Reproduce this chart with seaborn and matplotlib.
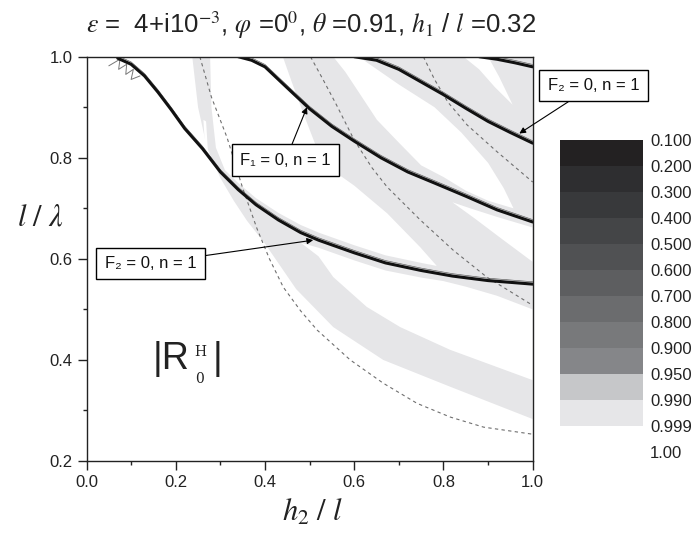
import matplotlib
matplotlib.use("Agg")
import matplotlib as mpl
import matplotlib.pyplot as plt
import matplotlib.transforms as mtransforms
from matplotlib.colors import ListedColormap, BoundaryNorm
from matplotlib.ticker import MultipleLocator
import seaborn as sns

# ---------------- data ----------------
# thick black curves (h2/l, l/lambda)
curveA_x = [0.07, 0.10, 0.13, 0.16, 0.19, 0.22, 0.26, 0.30, 0.34, 0.38, 0.43, 0.48, 0.52, 0.60, 0.67, 0.75, 0.82, 0.90, 1.00]
curveA_y = [0.997, 0.985, 0.962, 0.930, 0.895, 0.858, 0.818, 0.772, 0.737, 0.707, 0.677, 0.652, 0.637, 0.612, 0.592, 0.577, 0.566, 0.557, 0.550]
curveB_x = [0.34, 0.37, 0.40, 0.43, 0.46, 0.50, 0.55, 0.60, 0.66, 0.72, 0.78, 0.85, 0.92, 1.00]
curveB_y = [1.0, 0.993, 0.980, 0.955, 0.930, 0.897, 0.862, 0.833, 0.800, 0.772, 0.750, 0.724, 0.697, 0.673]
curveC_x = [0.60, 0.65, 0.70, 0.75, 0.80, 0.85, 0.90, 0.95, 1.00]
curveC_y = [1.0, 0.993, 0.975, 0.950, 0.925, 0.898, 0.872, 0.850, 0.829]
curveD_x = [0.88, 0.92, 0.96, 1.00]
curveD_y = [1.0, 0.995, 0.988, 0.980]
zig_x = [0.05, 0.075, 0.072, 0.09, 0.088, 0.105, 0.10, 0.12]
zig_y = [0.982, 0.995, 0.975, 0.985, 0.965, 0.975, 0.955, 0.962]

# thin dashed curves
dash1_x = [0.254, 0.28, 0.315, 0.35, 0.382, 0.41, 0.441, 0.48, 0.517, 0.591, 0.665, 0.741, 0.815, 0.89, 1.0]
dash1_y = [1.0, 0.92, 0.84, 0.74, 0.66, 0.60, 0.544, 0.497, 0.459, 0.40, 0.354, 0.314, 0.287, 0.267, 0.253]
dash2_x = [0.502, 0.53, 0.56, 0.60, 0.64, 0.674, 0.748, 0.822, 0.897, 1.0]
dash2_y = [1.0, 0.955, 0.905, 0.835, 0.78, 0.742, 0.677, 0.617, 0.564, 0.508]
dash3_x = [0.755, 0.78, 0.81, 0.853, 0.92, 1.0]
dash3_y = [1.0, 0.955, 0.91, 0.865, 0.812, 0.752]

# region |R| < 0.999 (light grey): outer boundary, then white holes
grey_x = [0.237, 0.25, 0.27, 0.30, 0.33, 0.36, 0.40, 0.47, 0.553, 0.665, 0.815, 1.0, 1.0]
grey_y = [1.0, 0.90, 0.82, 0.76, 0.715, 0.675, 0.63, 0.54, 0.465, 0.40, 0.347, 0.283, 1.0]
hole1_x = [0.48, 0.52, 0.553, 0.628, 0.703, 0.815, 1.0, 1.0, 0.92, 0.85, 0.80, 0.75, 0.67, 0.60, 0.52]
hole1_y = [0.632, 0.605, 0.564, 0.505, 0.465, 0.42, 0.36, 0.50, 0.527, 0.545, 0.556, 0.563, 0.577, 0.597, 0.622]
hole2_x = [0.277, 0.28, 0.29, 0.31, 0.34, 0.38, 0.43, 0.48, 0.52, 0.60, 0.67, 0.75, 0.785,
           0.748, 0.674, 0.60, 0.56, 0.52, 0.485, 0.46, 0.44]
hole2_y = [1.0, 0.90, 0.82, 0.776, 0.75, 0.72, 0.691, 0.667, 0.652, 0.627, 0.607, 0.592, 0.586,
           0.623, 0.69, 0.745, 0.77, 0.81, 0.89, 0.95, 1.0]
hole3_x = [0.553, 0.61, 0.70, 0.78, 0.84, 0.90, 0.935, 0.957, 0.90, 0.85, 0.80, 0.75, 0.70, 0.651, 0.61, 0.58]
hole3_y = [1.0, 1.0, 0.945, 0.90, 0.85, 0.79, 0.74, 0.70, 0.715, 0.735, 0.762, 0.785, 0.83, 0.875, 0.93, 0.97]
hole4_x = [0.82, 0.86, 0.92, 1.0, 1.0, 0.93, 0.87]
hole4_y = [0.712, 0.70, 0.683, 0.662, 0.594, 0.64, 0.68]
hole5_x = [0.845, 0.90, 0.925, 0.955, 0.915, 0.88]
hole5_y = [1.0, 1.0, 0.96, 0.905, 0.94, 0.975]
sliver_x = [0.262, 0.268, 0.272, 0.266]
sliver_y = [0.875, 0.872, 0.815, 0.815]

# colour scale of |R|
levels = [0.100, 0.200, 0.300, 0.400, 0.500, 0.600, 0.700, 0.800, 0.900, 0.950, 0.990, 0.999, 1.00]
level_labels = ["0.100", "0.200", "0.300", "0.400", "0.500", "0.600", "0.700", "0.800", "0.900",
                "0.950", "0.990", "0.999", "1.00"]
level_colors = ["#232122", "#2e2e30", "#38393b", "#444547", "#505153", "#5d5e60", "#6b6c6e",
                "#78797b", "#858689", "#c6c7c9", "#e6e6e8", "#ffffff"]

# annotations
labelF1_text = "F\u2081 = 0, n = 1"
labelF1_xy, labelF1_tip = (0.446, 0.795), (0.494, 0.900)
labelF2a_text = "F\u2082 = 0, n = 1"
labelF2a_xy, labelF2a_tip = (0.1435, 0.591), (0.508, 0.637)
labelF2b_text = "F\u2082 = 0, n = 1"
labelF2b_xy, labelF2b_tip = (1.136, 0.943), (0.970, 0.848)

x_ticks = [0.0, 0.2, 0.4, 0.6, 0.8, 1.0]
y_ticks = [0.2, 0.4, 0.6, 0.8, 1.0]

# ---------------- figure ----------------
sns.set_theme(style="ticks")
plt.rcParams["font.family"] = ["Liberation Sans", "DejaVu Sans"]
plt.rcParams["axes.edgecolor"] = "#222222"
plt.rcParams["axes.linewidth"] = 1.0

fig = plt.figure(figsize=(6.91, 5.34), dpi=100)
ax = fig.add_axes([0.1252, 0.1367, 0.6457, 0.7571])

band_grey = "#e6e6e8"
ax.fill(grey_x, grey_y, color=band_grey, lw=0, zorder=0.5)
for hx, hy in [(hole1_x, hole1_y), (hole2_x, hole2_y), (hole3_x, hole3_y),
               (hole4_x, hole4_y), (hole5_x, hole5_y), (sliver_x, sliver_y)]:
    ax.fill(hx, hy, color="white", lw=0, zorder=0.6)

for dx, dy in [(dash1_x, dash1_y), (dash2_x, dash2_y), (dash3_x, dash3_y)]:
    sns.lineplot(x=dx, y=dy, sort=False, estimator=None, ax=ax, color="#6f6f6f",
                 lw=0.8, linestyle=(0, (3, 3)), zorder=1)

ax.plot(zig_x, zig_y, color="#777777", lw=0.7, zorder=1.5)

trans = mtransforms.offset_copy(ax.transData, fig=fig, x=0, y=1.7, units="points")
for cx, cy in [(curveA_x, curveA_y), (curveB_x, curveB_y), (curveC_x, curveC_y), (curveD_x, curveD_y)]:
    ax.plot(cx, cy, color="#555555", lw=0.45, transform=trans, zorder=1.8)

for cx, cy in [(curveA_x, curveA_y), (curveB_x, curveB_y), (curveC_x, curveC_y), (curveD_x, curveD_y)]:
    sns.lineplot(x=cx, y=cy, sort=False, estimator=None, ax=ax, color="#111111", lw=2.2, zorder=2)

ax.set_xlim(0.0, 1.0)
ax.set_ylim(0.2, 1.0)
ax.set_xticks(x_ticks)
ax.set_yticks(y_ticks)
ax.set_xticklabels([f"{v:.1f}" for v in x_ticks])
ax.set_yticklabels([f"{v:.1f}" for v in y_ticks])
ax.xaxis.set_minor_locator(MultipleLocator(0.1))
ax.yaxis.set_minor_locator(MultipleLocator(0.1))
ax.tick_params(which="major", direction="out", length=6.5, width=1.0, labelsize=12,
               colors="#222222", pad=3.5)
ax.tick_params(which="minor", direction="out", length=3.2, width=1.0, colors="#222222")
for s in ax.spines.values():
    s.set_visible(True)
    s.set_color("#222222")
ax.set_xlabel("")
ax.set_ylabel("")

box = dict(boxstyle="square,pad=0.5", fc="white", ec="black", lw=1.0)
arr = dict(arrowstyle="-|>", color="black", lw=0.8, shrinkA=0, shrinkB=0, mutation_scale=9)
for txt, pos, tip in [(labelF1_text, labelF1_xy, labelF1_tip),
                      (labelF2a_text, labelF2a_xy, labelF2a_tip),
                      (labelF2b_text, labelF2b_xy, labelF2b_tip)]:
    ax.annotate(txt, xy=tip, xytext=pos, ha="center", va="center", fontsize=12,
                color="#111111", bbox=box, arrowprops=arr, annotation_clip=False, zorder=6)

# |R_0^H| label
ax.text(0.149, 0.402, "|R", fontsize=27, ha="left", va="center", color="#222222", zorder=6)
ax.text(0.255, 0.415, "H", fontsize=10, ha="center", va="center", family="DejaVu Serif",
        color="#222222", zorder=6)
ax.text(0.253, 0.363, "0", fontsize=10, ha="center", va="center", family="DejaVu Serif",
        color="#222222", zorder=6)
ax.text(0.293, 0.402, "|", fontsize=27, ha="center", va="center", color="#222222", zorder=6)

# axis labels
fig.text(40 / 691, 1 - 217 / 534, r"$l\ /\ \lambda$", fontsize=22, ha="center", va="center",
         math_fontfamily="stix", color="#222222")
fig.text(313 / 691, 1 - 513 / 534, r"$h_{2}\ /\ l$", fontsize=22, ha="center", va="center",
         math_fontfamily="stix", color="#222222")

# title
fig.text(311 / 691, 1 - 25 / 534,
         r"$\varepsilon$ =  4+i10$^{-3}$, $\varphi$ =0$^{0}$, $\theta$ =0.91, $h_{1}$ / $l$ =0.32",
         fontsize=18.5, ha="center", va="center", math_fontfamily="stix", color="#222222")

# colour scale
cax = fig.add_axes([560 / 691, 1 - 452 / 534, 83 / 691, 312 / 534])
cmap = ListedColormap(level_colors)
norm = BoundaryNorm(levels, cmap.N)
cb = mpl.colorbar.Colorbar(cax, cmap=cmap, norm=norm, boundaries=levels, spacing="uniform",
                           ticks=levels, orientation="vertical")
cb.outline.set_visible(False)
cax.invert_yaxis()
cb.set_ticklabels(level_labels)
cax.tick_params(length=0, labelsize=12, pad=5, colors="#222222")
cax.minorticks_off()

fig.savefig("out.png", dpi=100)
